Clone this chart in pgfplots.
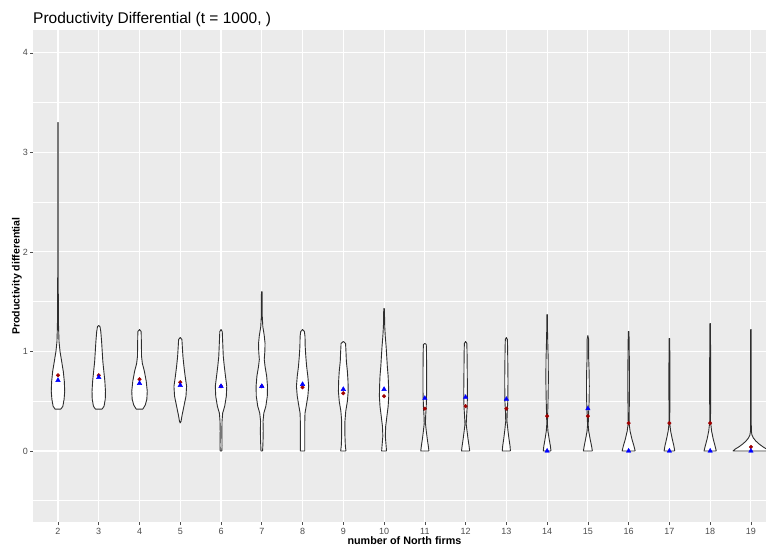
\documentclass[border=0pt]{standalone}
\usepackage{fontspec}
\setmainfont{Liberation Sans}
\usepackage{pgfplots}
\pgfplotsset{compat=1.18}
\definecolor{panel}{HTML}{EBEBEB}
\definecolor{tickgray}{HTML}{4D4D4D}
\definecolor{meanred}{HTML}{A00000}

\begin{document}
\begin{tikzpicture}
\useasboundingbox (-33pt,-28pt) rectangle (733pt,522pt);
\begin{axis}[
  scale only axis, width=733pt, height=492pt,
  xmin=1.387, xmax=19.37, ymin=-0.714, ymax=4.23,
  xtick={2,...,19}, ytick={0,1,2,3,4},
  minor ytick={-0.5,0.5,1.5,2.5,3.5},
  grid=both,
  major grid style={white, line width=1.1pt},
  minor grid style={white, line width=0.55pt},
  axis background/.style={fill=panel},
  axis line style={draw=none},
  tick align=outside, tick pos=left,
  major tick length=3pt, minor tick length=0pt,
  tick style={tickgray, line width=0.6pt},
  ticklabel style={font=\fontsize{9}{10}\selectfont, text=tickgray},
  yticklabel style={xshift=1.5pt},
  /pgf/number format/assume math mode=true,
  every axis title shift=0pt,
  title={Productivity Differential (t = 1000, )},
  title style={at={(axis description cs:0,1)}, anchor=base west, inner sep=0pt, yshift=6pt, font=\fontsize{15.5}{18}\selectfont},
  xlabel={number of North firms},
  ylabel={Productivity differential},
  xlabel style={font=\bfseries\fontsize{10.8}{12}\selectfont, at={(axis description cs:0.5,0)}, anchor=center, yshift=-18.5pt, xshift=5pt},
  ylabel style={font=\bfseries\fontsize{10.5}{12}\selectfont, at={(axis description cs:-0.0218,0.5)}, anchor=center},
  vio/.style={fill=white, draw=black!82, line width=0.9pt, line join=round},
]
% violin 2
\addplot[vio] table[x expr=2+\thisrow{d}, y=y] {
d y
0.07 0.42
0.12 0.45
0.15 0.52
0.165 0.60
0.155 0.70
0.13 0.80
0.09 0.90
0.05 1.00
0.025 1.10
0.014 1.25
0.008 1.50
0.006 2.00
0.006 3.30
-0.006 3.30
-0.006 2.00
-0.008 1.50
-0.014 1.25
-0.025 1.10
-0.05 1.00
-0.09 0.90
-0.13 0.80
-0.155 0.70
-0.165 0.60
-0.15 0.52
-0.12 0.45
-0.07 0.42
0.07 0.42
};
% violin 3
\addplot[vio] table[x expr=3+\thisrow{d}, y=y] {
d y
0.08 0.42
0.13 0.45
0.16 0.52
0.165 0.60
0.15 0.70
0.125 0.80
0.10 0.90
0.085 1.00
0.07 1.10
0.05 1.20
0.03 1.25
0.0 1.26
-0.03 1.25
-0.05 1.20
-0.07 1.10
-0.085 1.00
-0.10 0.90
-0.125 0.80
-0.15 0.70
-0.165 0.60
-0.16 0.52
-0.13 0.45
-0.08 0.42
0.08 0.42
};
% violin 4
\addplot[vio] table[x expr=4+\thisrow{d}, y=y] {
d y
0.08 0.42
0.14 0.46
0.18 0.52
0.19 0.60
0.165 0.70
0.12 0.80
0.07 0.88
0.05 0.95
0.045 1.10
0.04 1.20
0.0 1.22
-0.04 1.20
-0.045 1.10
-0.05 0.95
-0.07 0.88
-0.12 0.80
-0.165 0.70
-0.19 0.60
-0.18 0.52
-0.14 0.46
-0.08 0.42
0.08 0.42
};
% violin 5
\addplot[vio] table[x expr=5+\thisrow{d}, y=y] {
d y
0.0 0.28
0.02 0.30
0.04 0.35
0.09 0.45
0.14 0.55
0.155 0.65
0.12 0.75
0.09 0.85
0.065 0.95
0.05 1.05
0.04 1.12
0.0 1.14
-0.04 1.12
-0.05 1.05
-0.065 0.95
-0.09 0.85
-0.12 0.75
-0.155 0.65
-0.14 0.55
-0.09 0.45
-0.04 0.35
-0.02 0.30
0.0 0.28
};
% violin 6
\addplot[vio] table[x expr=6+\thisrow{d}, y=y] {
d y
0.02 0.00
0.025 0.05
0.02 0.20
0.025 0.30
0.04 0.38
0.09 0.45
0.13 0.55
0.14 0.65
0.11 0.75
0.08 0.85
0.055 0.95
0.04 1.10
0.03 1.20
0.0 1.22
-0.03 1.20
-0.04 1.10
-0.055 0.95
-0.08 0.85
-0.11 0.75
-0.14 0.65
-0.13 0.55
-0.09 0.45
-0.04 0.38
-0.025 0.30
-0.02 0.20
-0.025 0.05
-0.02 0.00
0.02 0.00
};
% violin 7
\addplot[vio] table[x expr=7+\thisrow{d}, y=y] {
d y
0.02 0.00
0.03 0.10
0.035 0.20
0.03 0.30
0.05 0.38
0.10 0.45
0.135 0.55
0.14 0.65
0.12 0.75
0.08 0.85
0.06 0.92
0.075 1.00
0.08 1.08
0.06 1.16
0.025 1.25
0.012 1.35
0.008 1.60
-0.008 1.60
-0.012 1.35
-0.025 1.25
-0.06 1.16
-0.08 1.08
-0.075 1.00
-0.06 0.92
-0.08 0.85
-0.12 0.75
-0.14 0.65
-0.135 0.55
-0.10 0.45
-0.05 0.38
-0.03 0.30
-0.035 0.20
-0.03 0.10
-0.02 0.00
0.02 0.00
};
% violin 8
\addplot[vio] table[x expr=8+\thisrow{d}, y=y] {
d y
0.055 0.00
0.055 0.30
0.06 0.38
0.09 0.45
0.13 0.55
0.15 0.65
0.13 0.75
0.10 0.85
0.08 0.95
0.065 1.05
0.06 1.15
0.045 1.20
0.0 1.22
-0.045 1.20
-0.06 1.15
-0.065 1.05
-0.08 0.95
-0.10 0.85
-0.13 0.75
-0.15 0.65
-0.13 0.55
-0.09 0.45
-0.06 0.38
-0.055 0.30
-0.055 0.00
0.055 0.00
};
% violin 9
\addplot[vio] table[x expr=9+\thisrow{d}, y=y] {
d y
0.065 0.00
0.05 0.05
0.04 0.15
0.04 0.30
0.06 0.40
0.10 0.50
0.12 0.60
0.115 0.70
0.10 0.80
0.075 0.90
0.065 1.00
0.055 1.08
0.0 1.10
-0.055 1.08
-0.065 1.00
-0.075 0.90
-0.10 0.80
-0.115 0.70
-0.12 0.60
-0.10 0.50
-0.06 0.40
-0.04 0.30
-0.04 0.15
-0.05 0.05
-0.065 0.00
0.065 0.00
};
% violin 10
\addplot[vio] table[x expr=10+\thisrow{d}, y=y] {
d y
0.06 0.00
0.05 0.05
0.03 0.15
0.04 0.25
0.07 0.35
0.10 0.45
0.115 0.55
0.11 0.65
0.10 0.75
0.08 0.85
0.065 0.95
0.05 1.05
0.03 1.15
0.016 1.25
0.008 1.43
-0.008 1.43
-0.016 1.25
-0.03 1.15
-0.05 1.05
-0.065 0.95
-0.08 0.85
-0.10 0.75
-0.11 0.65
-0.115 0.55
-0.10 0.45
-0.07 0.35
-0.04 0.25
-0.03 0.15
-0.05 0.05
-0.06 0.00
0.06 0.00
};
% violin 11
\addplot[vio] table[x expr=11+\thisrow{d}, y=y] {
d y
0.10 0.00
0.085 0.05
0.06 0.12
0.035 0.20
0.015 0.28
0.02 0.35
0.035 0.45
0.045 0.60
0.045 0.80
0.04 1.00
0.035 1.07
0.0 1.08
-0.035 1.07
-0.04 1.00
-0.045 0.80
-0.045 0.60
-0.035 0.45
-0.02 0.35
-0.015 0.28
-0.035 0.20
-0.06 0.12
-0.085 0.05
-0.10 0.00
0.10 0.00
};
% violin 12
\addplot[vio] table[x expr=12+\thisrow{d}, y=y] {
d y
0.10 0.00
0.085 0.05
0.06 0.12
0.035 0.20
0.015 0.27
0.025 0.35
0.04 0.45
0.045 0.60
0.04 0.80
0.035 1.00
0.03 1.08
0.0 1.10
-0.03 1.08
-0.035 1.00
-0.04 0.80
-0.045 0.60
-0.04 0.45
-0.025 0.35
-0.015 0.27
-0.035 0.20
-0.06 0.12
-0.085 0.05
-0.10 0.00
0.10 0.00
};
% violin 13
\addplot[vio] table[x expr=13+\thisrow{d}, y=y] {
d y
0.10 0.00
0.09 0.05
0.065 0.12
0.04 0.20
0.015 0.30
0.02 0.38
0.035 0.50
0.04 0.70
0.035 0.90
0.03 1.05
0.025 1.12
0.0 1.14
-0.025 1.12
-0.03 1.05
-0.035 0.90
-0.04 0.70
-0.035 0.50
-0.02 0.38
-0.015 0.30
-0.04 0.20
-0.065 0.12
-0.09 0.05
-0.10 0.00
0.10 0.00
};
% violin 14
\addplot[vio] table[x expr=14+\thisrow{d}, y=y] {
d y
0.095 0.00
0.08 0.05
0.05 0.12
0.02 0.20
0.008 0.27
0.012 0.35
0.022 0.50
0.03 0.70
0.028 0.90
0.018 1.05
0.01 1.20
0.006 1.37
-0.006 1.37
-0.01 1.20
-0.018 1.05
-0.028 0.90
-0.03 0.70
-0.022 0.50
-0.012 0.35
-0.008 0.27
-0.02 0.20
-0.05 0.12
-0.08 0.05
-0.095 0.00
0.095 0.00
};
% violin 15
\addplot[vio] table[x expr=15+\thisrow{d}, y=y] {
d y
0.11 0.00
0.09 0.05
0.055 0.12
0.02 0.20
0.008 0.26
0.015 0.35
0.03 0.50
0.035 0.65
0.03 0.80
0.018 0.95
0.02 1.05
0.02 1.12
0.0 1.16
-0.02 1.12
-0.02 1.05
-0.018 0.95
-0.03 0.80
-0.035 0.65
-0.03 0.50
-0.015 0.35
-0.008 0.26
-0.02 0.20
-0.055 0.12
-0.09 0.05
-0.11 0.00
0.11 0.00
};
% violin 16
\addplot[vio] table[x expr=16+\thisrow{d}, y=y] {
d y
0.16 0.00
0.13 0.05
0.08 0.12
0.035 0.20
0.01 0.28
0.015 0.40
0.02 0.60
0.02 0.80
0.015 1.00
0.01 1.15
0.006 1.20
-0.006 1.20
-0.01 1.15
-0.015 1.00
-0.02 0.80
-0.02 0.60
-0.015 0.40
-0.01 0.28
-0.035 0.20
-0.08 0.12
-0.13 0.05
-0.16 0.00
0.16 0.00
};
% violin 17
\addplot[vio] table[x expr=17+\thisrow{d}, y=y] {
d y
0.13 0.00
0.11 0.05
0.07 0.12
0.03 0.20
0.008 0.28
0.01 0.40
0.012 0.60
0.012 0.80
0.01 1.00
0.006 1.13
-0.006 1.13
-0.01 1.00
-0.012 0.80
-0.012 0.60
-0.01 0.40
-0.008 0.28
-0.03 0.20
-0.07 0.12
-0.11 0.05
-0.13 0.00
0.13 0.00
};
% violin 18
\addplot[vio] table[x expr=18+\thisrow{d}, y=y] {
d y
0.15 0.00
0.12 0.05
0.075 0.12
0.035 0.20
0.008 0.30
0.012 0.50
0.014 0.70
0.012 0.90
0.009 1.10
0.006 1.28
-0.006 1.28
-0.009 1.10
-0.012 0.90
-0.014 0.70
-0.012 0.50
-0.008 0.30
-0.035 0.20
-0.075 0.12
-0.12 0.05
-0.15 0.00
0.15 0.00
};
% violin 19
\addplot[vio] table[x expr=19+\thisrow{d}, y=y] {
d y
0.44 0.00
0.38 0.02
0.30 0.04
0.20 0.07
0.12 0.10
0.06 0.13
0.025 0.16
0.01 0.20
0.007 0.40
0.006 0.80
0.006 1.22
-0.006 1.22
-0.006 0.80
-0.007 0.40
-0.01 0.20
-0.025 0.16
-0.06 0.13
-0.12 0.10
-0.20 0.07
-0.30 0.04
-0.38 0.02
-0.44 0.00
0.44 0.00
};
\addplot[only marks, mark=*, mark size=1.8pt, color=meanred] coordinates {
(2,0.76)(3,0.76)(4,0.72)(5,0.69)(6,0.65)(7,0.65)(8,0.64)(9,0.58)(10,0.55)
(11,0.425)(12,0.45)(13,0.425)(14,0.35)(15,0.35)(16,0.28)(17,0.28)(18,0.28)(19,0.04)};
\addplot[only marks, mark=triangle*, mark size=2.6pt, color=blue] coordinates {
(2,0.71)(3,0.74)(4,0.68)(5,0.66)(6,0.65)(7,0.65)(8,0.67)(9,0.62)(10,0.62)
(11,0.53)(12,0.54)(13,0.52)(14,0)(15,0.425)(16,0)(17,0)(18,0)(19,0)};
\end{axis}
\end{tikzpicture}
\end{document}
